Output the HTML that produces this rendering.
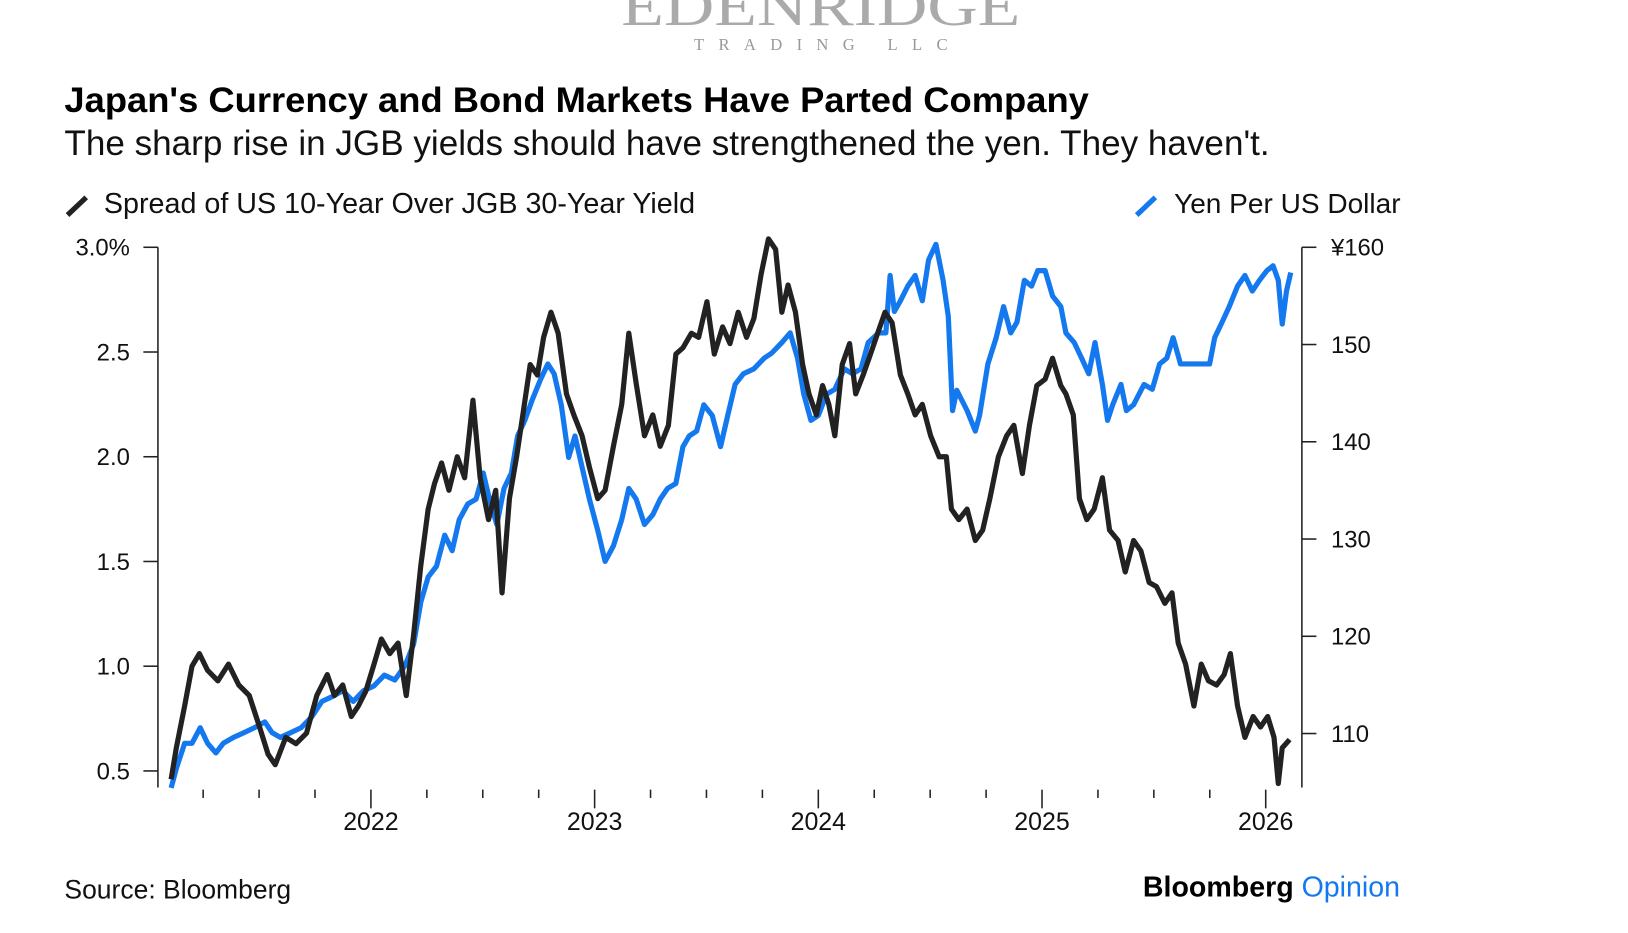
<!DOCTYPE html>
<html><head><meta charset="utf-8"><style>
body{margin:0;background:#fff;width:1628px;height:928px;overflow:hidden;font-family:"Liberation Sans",sans-serif;}
svg text{font-family:"Liberation Sans",sans-serif;}
</style></head><body>
<svg width="1628" height="928" viewBox="0 0 1628 928">
<g transform="scale(1.039)">
<text x="790" y="24" text-anchor="middle" font-family="Liberation Serif" font-size="54" fill="#aaa" textLength="384" lengthAdjust="spacingAndGlyphs" style="font-family:'Liberation Serif',serif">EDENRIDGE</text>
<text x="790" y="48" text-anchor="middle" font-size="16" fill="#999" textLength="244" lengthAdjust="spacing" style="font-family:'Liberation Serif',serif">TRADING LLC</text>
<text x="62" y="108" font-size="34" font-weight="bold" fill="#000" textLength="986" lengthAdjust="spacingAndGlyphs">Japan's Currency and Bond Markets Have Parted Company</text>
<text x="62" y="149" font-size="33.5" fill="#111" textLength="1160" lengthAdjust="spacingAndGlyphs">The sharp rise in JGB yields should have strengthened the yen. They haven't.</text>
<g><line x1="65" y1="207" x2="83" y2="190" stroke="#222" stroke-width="5"/><text x="100" y="205" font-size="27.5" fill="#111" textLength="569" lengthAdjust="spacingAndGlyphs">Spread of US 10-Year Over JGB 30-Year Yield</text></g>
<g><line x1="1094" y1="207" x2="1112" y2="190" stroke="#1479ef" stroke-width="5"/><text x="1130" y="205" font-size="26.8" fill="#111" textLength="218" lengthAdjust="spacingAndGlyphs">Yen Per US Dollar</text></g>
<g id="axes"></g>
<g id="lines"></g>
<text x="62" y="865" font-size="25.5" fill="#111">Source: Bloomberg</text>
<text x="1100" y="863" font-size="27.5" font-weight="bold" fill="#000">Bloomberg <tspan fill="#1479ef" font-weight="normal">Opinion</tspan></text>
</g>
</svg>
<script>
const spreadDates=[2021.107,2021.130,2021.167,2021.200,2021.233,2021.270,2021.316,2021.363,2021.409,2021.456,2021.502,2021.540,2021.572,2021.619,2021.665,2021.712,2021.758,2021.805,2021.837,2021.874,2021.912,2021.944,2021.977,2022.014,2022.047,2022.084,2022.121,2022.158,2022.191,2022.223,2022.256,2022.284,2022.316,2022.349,2022.386,2022.419,2022.456,2022.488,2022.526,2022.558,2022.586,2022.619,2022.651,2022.679,2022.712,2022.744,2022.772,2022.805,2022.837,2022.874,2022.907,2022.944,2022.977,2023.014,2023.047,2023.084,2023.121,2023.153,2023.186,2023.223,2023.260,2023.293,2023.330,2023.363,2023.395,2023.433,2023.465,2023.502,2023.535,2023.572,2023.605,2023.642,2023.679,2023.712,2023.744,2023.777,2023.809,2023.837,2023.865,2023.898,2023.930,2023.958,2023.991,2024.019,2024.047,2024.074,2024.107,2024.140,2024.167,2024.200,2024.233,2024.265,2024.298,2024.330,2024.367,2024.400,2024.433,2024.465,2024.502,2024.540,2024.572,2024.595,2024.628,2024.665,2024.702,2024.735,2024.767,2024.805,2024.842,2024.874,2024.912,2024.944,2024.977,2025.014,2025.047,2025.084,2025.107,2025.140,2025.167,2025.200,2025.233,2025.270,2025.302,2025.340,2025.372,2025.409,2025.442,2025.479,2025.512,2025.549,2025.581,2025.609,2025.642,2025.679,2025.712,2025.744,2025.781,2025.814,2025.842,2025.874,2025.907,2025.944,2025.977,2026.009,2026.037,2026.056,2026.074,2026.107];
const spreadValues=[0.46,0.61,0.81,1.0,1.06,0.98,0.93,1.01,0.91,0.86,0.71,0.58,0.53,0.66,0.63,0.68,0.86,0.96,0.86,0.91,0.76,0.81,0.88,1.01,1.13,1.06,1.11,0.86,1.15,1.48,1.75,1.87,1.97,1.84,2.0,1.9,2.27,1.9,1.7,1.84,1.35,1.8,2.0,2.2,2.44,2.39,2.57,2.69,2.59,2.3,2.2,2.1,1.95,1.8,1.84,2.05,2.25,2.59,2.35,2.1,2.2,2.05,2.15,2.49,2.52,2.59,2.57,2.74,2.49,2.62,2.54,2.69,2.57,2.66,2.87,3.04,2.99,2.69,2.82,2.69,2.44,2.3,2.2,2.34,2.25,2.1,2.44,2.54,2.3,2.39,2.49,2.59,2.69,2.64,2.39,2.3,2.2,2.25,2.1,2.0,2.0,1.75,1.7,1.75,1.6,1.65,1.8,2.0,2.1,2.15,1.92,2.15,2.34,2.37,2.47,2.34,2.3,2.2,1.8,1.7,1.75,1.9,1.65,1.6,1.45,1.6,1.55,1.4,1.38,1.3,1.35,1.11,1.01,0.81,1.01,0.93,0.91,0.96,1.06,0.81,0.66,0.76,0.71,0.76,0.66,0.44,0.61,0.65];
const yenDates=[2021.107,2021.130,2021.167,2021.200,2021.237,2021.270,2021.307,2021.340,2021.386,2021.433,2021.479,2021.526,2021.558,2021.595,2021.642,2021.688,2021.735,2021.781,2021.828,2021.874,2021.921,2021.967,2022.014,2022.060,2022.107,2022.153,2022.191,2022.223,2022.256,2022.293,2022.330,2022.363,2022.395,2022.433,2022.470,2022.502,2022.535,2022.563,2022.595,2022.628,2022.656,2022.688,2022.721,2022.758,2022.791,2022.819,2022.851,2022.884,2022.912,2022.944,2022.977,2023.014,2023.047,2023.084,2023.121,2023.153,2023.186,2023.223,2023.260,2023.293,2023.326,2023.363,2023.395,2023.423,2023.456,2023.488,2023.526,2023.563,2023.595,2023.628,2023.665,2023.712,2023.758,2023.791,2023.837,2023.874,2023.907,2023.935,2023.967,2024.000,2024.037,2024.074,2024.116,2024.153,2024.191,2024.223,2024.270,2024.302,2024.321,2024.340,2024.367,2024.400,2024.433,2024.465,2024.493,2024.526,2024.558,2024.581,2024.600,2024.619,2024.665,2024.702,2024.721,2024.758,2024.795,2024.828,2024.860,2024.888,2024.921,2024.953,2024.981,2025.014,2025.047,2025.084,2025.107,2025.144,2025.177,2025.209,2025.237,2025.270,2025.293,2025.316,2025.353,2025.377,2025.409,2025.456,2025.493,2025.526,2025.558,2025.586,2025.619,2025.665,2025.712,2025.749,2025.772,2025.805,2025.837,2025.874,2025.907,2025.940,2025.972,2026.005,2026.033,2026.056,2026.074,2026.093,2026.112];
const yenValues=[104.4,106.4,109,109,110.6,109,108,109,109.6,110.1,110.6,111.2,110.1,109.6,110.1,110.6,111.7,113.3,113.8,114.4,113.3,114.4,114.9,116,115.5,117,119.2,123.5,126.1,127.2,130.4,128.8,132,133.6,134.1,136.8,133.6,131.5,135.2,136.8,140.6,142.2,144.3,146.4,148,147,143.8,138.4,140.6,137.4,134.1,130.9,127.7,129.3,132,135.2,134.1,131.5,132.5,134.1,135.2,135.7,139.5,140.6,141.1,143.8,142.7,139.5,142.7,145.9,147,147.5,148.6,149.1,150.2,151.2,148.6,144.9,142.2,142.7,144.9,145.4,147.5,147,147.5,150.2,151.2,151.2,157.1,153.4,154.5,156,157.1,154.5,158.7,160.3,156.6,152.9,143.2,145.3,143.2,141.1,142.7,148,150.7,153.9,151.2,152.3,156.6,156,157.6,157.6,155,153.9,151.2,150.2,148.6,147,150.2,145.9,142.2,143.8,145.9,143.2,143.8,145.9,145.4,148,148.6,150.7,148,148,148,148,150.7,152.3,153.9,156,157.1,155.5,156.6,157.6,158.1,156.6,152.1,155.5,157.4];
const leftTicks=[0.5,1.0,1.5,2.0,2.5,3.0];
const leftTickLabels=["0.5","1.0","1.5","2.0","2.5","3.0%"];
const rightTicks=[110,120,130,140,150,160];
const rightTickLabels=["110","120","130","140","150","¥160"];
const yearTicks=[2022,2023,2024,2025,2026];
const NS="http://www.w3.org/2000/svg";
const xS=y=>357+(y-2022)*215.3;
const yL=v=>742-(v-0.5)*201.6;
const yR=v=>238+(160-v)*9.36;
function mk(tag,attrs,parent){const e=document.createElementNS(NS,tag);for(const k in attrs)e.setAttribute(k,attrs[k]);parent.appendChild(e);return e;}
const ax=document.getElementById('axes');
let e=mk('line',{x1:152,y1:238,x2:152,y2:758,stroke:'#222','stroke-width':1.5},ax);


e=mk('line',{x1:1253,y1:238,x2:1253,y2:758,stroke:'#222','stroke-width':1.5},ax);


leftTicks.forEach((v,i)=>{
  mk('line',{x1:138,y1:yL(v),x2:152,y2:yL(v),stroke:'#222','stroke-width':1.5},ax);
  const t=mk('text',{x:125,y:yL(v)+8,'text-anchor':'end','font-size':23,fill:'#111'},ax);
  t.textContent=leftTickLabels[i];
  
  
});
rightTicks.forEach((v,i)=>{
  mk('line',{x1:1253,y1:yR(v),x2:1267,y2:yR(v),stroke:'#222','stroke-width':1.5},ax);
  const t=mk('text',{x:1281,y:yR(v)+8,'font-size':23,fill:'#111'},ax);
  t.textContent=rightTickLabels[i];
  
  
});
for(let q=2021.25;q<=2026.01;q+=0.25){
  const major=Math.abs(q-Math.round(q))<0.01;
  mk('line',{x1:xS(q),y1:760,x2:xS(q),y2:major?778:768,stroke:'#222','stroke-width':1.5},ax);
}
yearTicks.forEach(y=>{
  const t=mk('text',{x:xS(y),y:799,'text-anchor':'middle','font-size':24,fill:'#111'},ax);
  t.textContent=String(y);
  
  
});
const ln=document.getElementById('lines');
const pb=yenDates.map((d,i)=>xS(d).toFixed(1)+','+yR(yenValues[i]).toFixed(1)).join(' ');
const blue=mk('polyline',{points:pb,fill:'none',stroke:'#1479ef','stroke-width':5,'stroke-linejoin':'round'},ln);


const pk=spreadDates.map((d,i)=>xS(d).toFixed(1)+','+yL(spreadValues[i]).toFixed(1)).join(' ');
const black=mk('polyline',{points:pk,fill:'none',stroke:'#222','stroke-width':5,'stroke-linejoin':'round'},ln);


</script>
</body></html>
